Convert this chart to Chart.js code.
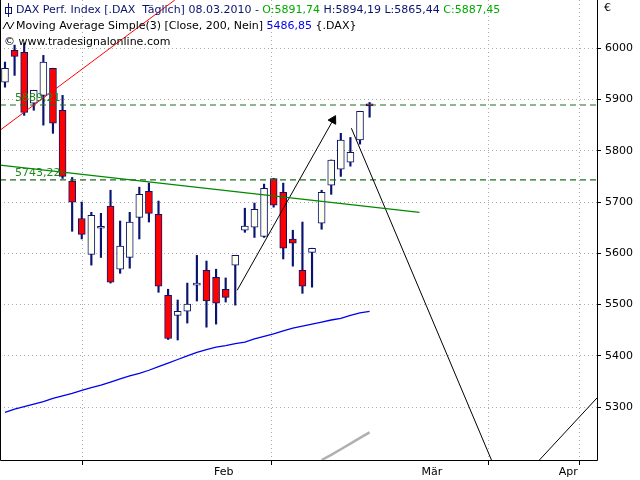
<!DOCTYPE html>
<html>
<head>
<script src="https://cdn.jsdelivr.net/npm/chart.js"></script>
<style>body{margin:0;background:#fff}</style>
</head>
<body>
<canvas id="c" width="640" height="480"></canvas>
<script>
// daily candles, index 0 = first visible day
const opens  = [5934,5996,5992,5893,5908,5961,5879,5741,5668,5598,5649,5692,5569,5592,5670,5721,5676,5518,5479,5487,5538,5567,5553,5530,5577,5645,5651,5633,5746,5719,5628,5567,5602,5659,5733,5764,5778,5821,5891.74];
const highs  = [5973,6006,6010,5918,5986,5961,5908,5748,5700,5680,5678,5723,5663,5680,5729,5737,5702,5530,5509,5542,5596,5585,5569,5552,5596,5688,5698,5735,5746,5737,5645,5661,5610,5723,5782,5834,5826,5877,5894.19];
const lows   = [5924,5947,5869,5879,5850,5834,5746,5643,5628,5577,5592,5542,5561,5571,5628,5661,5524,5432,5431,5464,5507,5456,5462,5505,5499,5641,5631,5631,5690,5589,5575,5522,5534,5647,5715,5750,5770,5813,5865.44];
const closes = [5961,5984,5875,5918,5973,5854,5750,5700,5637,5674,5651,5544,5614,5661,5715,5678,5536,5434,5487,5501,5540,5507,5503,5514,5596,5653,5686,5727,5694,5610,5620,5536,5610,5719,5782,5821,5797,5877,5887.45];
const ma200  = [5290,5296,5301,5306,5311,5317,5322,5327,5333,5338,5343,5349,5355,5361,5366,5372,5379,5386,5393,5400,5407,5412,5417,5420,5424,5427,5433,5438,5443,5449,5454,5458,5462,5466,5470,5473,5479,5484,5486.85];
const maGray = {33:5197,34:5207,35:5218,36:5229,37:5240,38:5251};
const levels = [5889.21, 5743.22];
const yTicks = [5300,5400,5500,5600,5700,5800,5900,6000];
const monthLabels = [{x:22.8,t:'Feb'},{x:44.5,t:'Mär'},{x:58.7,t:'Apr'}];
const monthBounds = [13.0, 32.8, 56.3];
// drawn trend lines, [x index, value]
const redLine   = [[-0.52,5840],[17.7,6094]];
const greenLine = [[-0.52,5772],[43.2,5680]];
const arrowLine = [[24.2,5528],[34.2,5860]];
const downLine  = [[36.1,5844],[50.7,5197]];
const upLine    = [[55.7,5197],[61.7,5318]];

const X_MIN = -0.52, X_MAX = 61.7;
const idx = opens.map((_, i) => i);
const pts = a => a.map(p => ({x:p[0], y:p[1]}));
const isLabel = v => monthLabels.some(m => Math.abs(m.x - v) < 0.01);

const datasets = [
  {type:'bar', data: idx.map(i => ({x:i, y:[lows[i], highs[i]]})), backgroundColor:'#0a1470', barThickness:1.5, grouped:false, order:3},
  {type:'bar', data: idx.map(i => ({x:i, y:[opens[i], closes[i]]})),
   backgroundColor: idx.map(i => closes[i] < opens[i] ? '#ff0000' : '#fffff0'),
   borderColor:'#0a1470', borderWidth:1, borderSkipped:false, barThickness:7, minBarLength:2, grouped:false, order:2},
  {type:'line', data: idx.map(i => ({x:i, y:ma200[i]})), borderColor:'#0000ee', borderWidth:1.3, pointRadius:0, order:1},
  {type:'line', data: Object.keys(maGray).map(k => ({x:+k, y:maGray[k]})), borderColor:'#b0b0b0', borderWidth:2.5, pointRadius:0, order:1},
  {type:'line', data: pts(redLine), borderColor:'#ff0000', borderWidth:1, pointRadius:0, order:1},
  {type:'line', data: pts(greenLine), borderColor:'#008800', borderWidth:1.2, pointRadius:0, order:1},
  {type:'line', data: pts(downLine), borderColor:'#000', borderWidth:1, pointRadius:0, order:1},
  {type:'line', data: pts(upLine), borderColor:'#000', borderWidth:1, pointRadius:0, order:1},
  {type:'line', data: pts(arrowLine), borderColor:'#000', borderWidth:1, order:1,
   pointRadius:[0,5], pointStyle:'triangle', rotation:29, pointBackgroundColor:'#000', pointBorderColor:'#000'}
];
levels.forEach(v => datasets.push({type:'line', data:[{x:X_MIN,y:v},{x:X_MAX,y:v}], borderColor:'#1f6f1f', borderWidth:1.2, borderDash:[6,4], pointRadius:0, order:1}));

const overlay = {
  id:'overlay',
  afterDraw(chart) {
    const ctx = chart.ctx, a = chart.chartArea, ys = chart.scales.y;
    ctx.save();
    ctx.font = '11px "DejaVu Sans"';
    ctx.textBaseline = 'middle';
    const run = (x, y, parts) => parts.forEach(([t, c]) => { ctx.fillStyle = c; ctx.fillText(t, x, y); x += ctx.measureText(t).width; });
    run(16, 10, [['DAX Perf. Index [.DAX  Täglich] 08.03.2010 - ', '#0a1470'], ['O:5891,74', '#00aa00'], [' H:5894,19 L:5865,44 ', '#0a1470'], ['C:5887,45', '#00aa00']]);
    run(16, 26, [['Moving Average Simple(3) [Close, 200, Nein] ', '#000'], ['5486,85', '#0000ee'], [' {.DAX}', '#000']]);
    run(4, 42, [['© www.tradesignalonline.com', '#000']]);
    ctx.strokeStyle = '#0a1470'; ctx.lineWidth = 1;
    ctx.strokeRect(5.5, 7.5, 6, 6); ctx.beginPath(); ctx.moveTo(8.5, 3); ctx.lineTo(8.5, 17); ctx.stroke();
    ctx.strokeStyle = '#000'; ctx.beginPath(); ctx.moveTo(3, 29); ctx.lineTo(7, 22); ctx.lineTo(10, 29); ctx.lineTo(14, 22); ctx.stroke();
    ctx.fillStyle = '#1f8a1f';
    levels.forEach(v => ctx.fillText(v.toFixed(2).replace('.', ','), 15, ys.getPixelForValue(v) - 7));
    ctx.fillStyle = '#000'; ctx.fillText('€', 604, 8);
    ctx.strokeStyle = '#000';
    ctx.beginPath();
    ctx.moveTo(a.left + 0.5, a.top); ctx.lineTo(a.left + 0.5, a.bottom + 0.5);
    ctx.lineTo(a.right + 0.5, a.bottom + 0.5); ctx.lineTo(a.right + 0.5, a.top);
    ctx.stroke();
    ctx.restore();
  }
};

new Chart(document.getElementById('c'), {
  data: {datasets},
  plugins: [overlay],
  options: {
    responsive:false, animation:false,
    layout:{autoPadding:false, padding:0},
    plugins:{legend:{display:false}, tooltip:{enabled:false}},
    scales:{
      x:{type:'linear', min:X_MIN, max:X_MAX, offset:false,
         afterFit: s => { s.height = 20; s.paddingLeft = 0; s.paddingRight = 0; },
         afterBuildTicks: s => { s.ticks = monthBounds.concat(monthLabels.map(m => m.x)).sort((p,q)=>p-q).map(v => ({value:v})); },
         ticks:{autoSkip:false, maxRotation:0, color:'#000', font:{family:'DejaVu Sans', size:11}, padding:1,
                callback: v => { const m = monthLabels.find(m => Math.abs(m.x - v) < 0.01); return m ? m.t : ''; }},
         grid:{color: c => (c.tick && isLabel(c.tick.value)) ? 'rgba(0,0,0,0)' : '#aaaaaa',
               tickColor: c => (c.tick && isLabel(c.tick.value)) ? 'rgba(0,0,0,0)' : '#000', tickLength:5},
         border:{display:true, color:'rgba(0,0,0,0)', dash:[1,3]}},
      y:{position:'right', min:5197, max:6094,
         afterFit: s => { s.width = 43; s.paddingTop = 0; s.paddingBottom = 0; },
         afterBuildTicks: s => { s.ticks = yTicks.map(v => ({value:v})); },
         ticks:{color:'#000', font:{family:'DejaVu Sans', size:11}, padding:4, callback: v => String(v)},
         grid:{color:'#aaaaaa', tickColor:'#000', tickLength:4},
         border:{display:true, color:'rgba(0,0,0,0)', dash:[1,3]}}
    }
  }
});
</script>
</body>
</html>
